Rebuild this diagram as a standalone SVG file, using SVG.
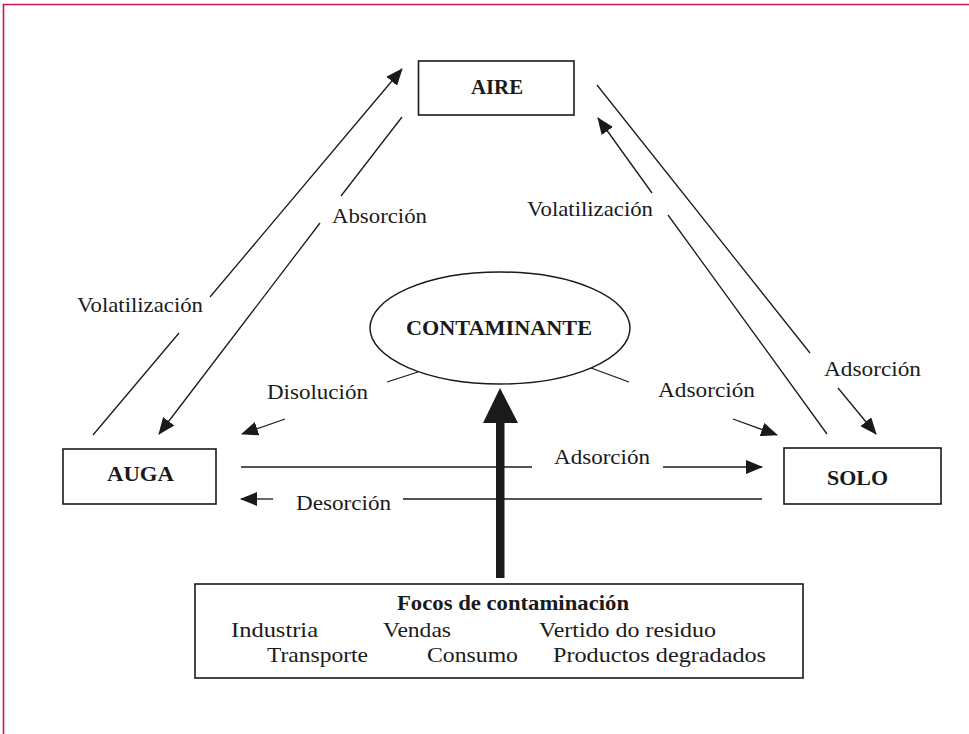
<svg xmlns="http://www.w3.org/2000/svg" width="969" height="734" viewBox="0 0 969 734">
<defs>
<marker id="ah" viewBox="0 0 17 14" refX="16" refY="7" markerWidth="17" markerHeight="14" markerUnits="userSpaceOnUse" orient="auto">
<path d="M0,0 L17,7 L0,14 z" fill="#1a1a1a"/>
</marker>
<style>
.box{fill:#fff;stroke:#1a1a1a;stroke-width:1.6}
.ln{fill:none;stroke:#1a1a1a;stroke-width:1.3}
.arr{fill:none;stroke:#1a1a1a;stroke-width:1.3;marker-end:url(#ah)}
.nt{font-family:"Liberation Serif","Times New Roman",serif;font-weight:bold;font-size:21px;fill:#1a1a1a;text-anchor:middle}
.lb{font-family:"Liberation Serif","Times New Roman",serif;font-size:22px;fill:#1a1a1a}
.ft{font-family:"Liberation Serif","Times New Roman",serif;font-size:22px;fill:#1a1a1a}
</style>
</defs>
<rect width="969" height="734" fill="#fff"/>
<path d="M3.5,734 V4.5 H969" fill="none" stroke="#d2144f" stroke-width="1.6"/>

<g id="connectors">
<line class="ln" x1="93" y1="435" x2="179" y2="333"/>
<line class="arr" x1="210" y1="297" x2="402" y2="69"/>
<line class="ln" x1="402" y1="117" x2="341" y2="196"/>
<line class="arr" x1="320" y1="223" x2="159" y2="434"/>
<line class="ln" x1="387" y1="382" x2="418" y2="372"/>
<line class="arr" x1="285" y1="419" x2="242" y2="434"/>
<line class="ln" x1="591" y1="368" x2="629" y2="382"/>
<line class="arr" x1="733" y1="419" x2="777" y2="435"/>
<line class="ln" x1="597" y1="85" x2="810" y2="353"/>
<line class="arr" x1="838" y1="388" x2="876" y2="434"/>
<line class="ln" x1="827" y1="434" x2="668" y2="215"/>
<line class="arr" x1="652" y1="193" x2="598" y2="118"/>
<line class="ln" x1="241" y1="467" x2="532" y2="467"/>
<line class="arr" x1="663" y1="467" x2="762" y2="467"/>
<line class="ln" x1="762" y1="499" x2="403" y2="499"/>
<line class="arr" x1="273" y1="499" x2="241" y2="499"/>
<rect x="496" y="418" width="8.5" height="160" fill="#1a1a1a"/>
<polygon points="500,388 518,423 483,423" fill="#1a1a1a"/>
</g>

<g id="labels">
<text class="lb" x="332" y="223" textLength="95" lengthAdjust="spacingAndGlyphs">Absorción</text>
<text class="lb" x="77" y="312" textLength="126" lengthAdjust="spacingAndGlyphs">Volatilización</text>
<text class="lb" x="527" y="216" textLength="126" lengthAdjust="spacingAndGlyphs">Volatilización</text>
<text class="lb" x="267" y="399" textLength="101" lengthAdjust="spacingAndGlyphs">Disolución</text>
<text class="lb" x="658" y="397" textLength="97" lengthAdjust="spacingAndGlyphs">Adsorción</text>
<text class="lb" x="824" y="376" textLength="97" lengthAdjust="spacingAndGlyphs">Adsorción</text>
<text class="lb" x="554" y="464" textLength="96" lengthAdjust="spacingAndGlyphs">Adsorción</text>
<text class="lb" x="296" y="510" textLength="95" lengthAdjust="spacingAndGlyphs">Desorción</text>
</g>

<g id="aire">
<rect class="box" x="418.5" y="61" width="155.5" height="54"/>
<text class="nt" x="497" y="94" textLength="52" lengthAdjust="spacingAndGlyphs">AIRE</text>
</g>

<g id="auga">
<rect class="box" x="63" y="449" width="153" height="55"/>
<text class="nt" x="140.5" y="481" textLength="67" lengthAdjust="spacingAndGlyphs">AUGA</text>
</g>

<g id="solo">
<rect class="box" x="784" y="448" width="157" height="56"/>
<text class="nt" x="857.5" y="485" textLength="61" lengthAdjust="spacingAndGlyphs">SOLO</text>
</g>

<g id="contaminante">
<ellipse cx="500" cy="328" rx="130" ry="56" fill="#fff" stroke="#1a1a1a" stroke-width="1.5"/>
<text class="nt" x="499" y="335" textLength="186" lengthAdjust="spacingAndGlyphs">CONTAMINANTE</text>
</g>

<g id="focos">
<rect class="box" x="195" y="584" width="608" height="94"/>
<text class="nt" x="513" y="610" textLength="232" lengthAdjust="spacingAndGlyphs">Focos de contaminación</text>
<text class="ft" x="231" y="637" textLength="87" lengthAdjust="spacingAndGlyphs">Industria</text>
<text class="ft" x="383" y="637" textLength="68" lengthAdjust="spacingAndGlyphs">Vendas</text>
<text class="ft" x="539" y="637" textLength="177" lengthAdjust="spacingAndGlyphs">Vertido do residuo</text>
<text class="ft" x="267" y="662" textLength="101" lengthAdjust="spacingAndGlyphs">Transporte</text>
<text class="ft" x="427" y="662" textLength="91" lengthAdjust="spacingAndGlyphs">Consumo</text>
<text class="ft" x="553" y="662" textLength="213" lengthAdjust="spacingAndGlyphs">Productos degradados</text>
</g>
</svg>
